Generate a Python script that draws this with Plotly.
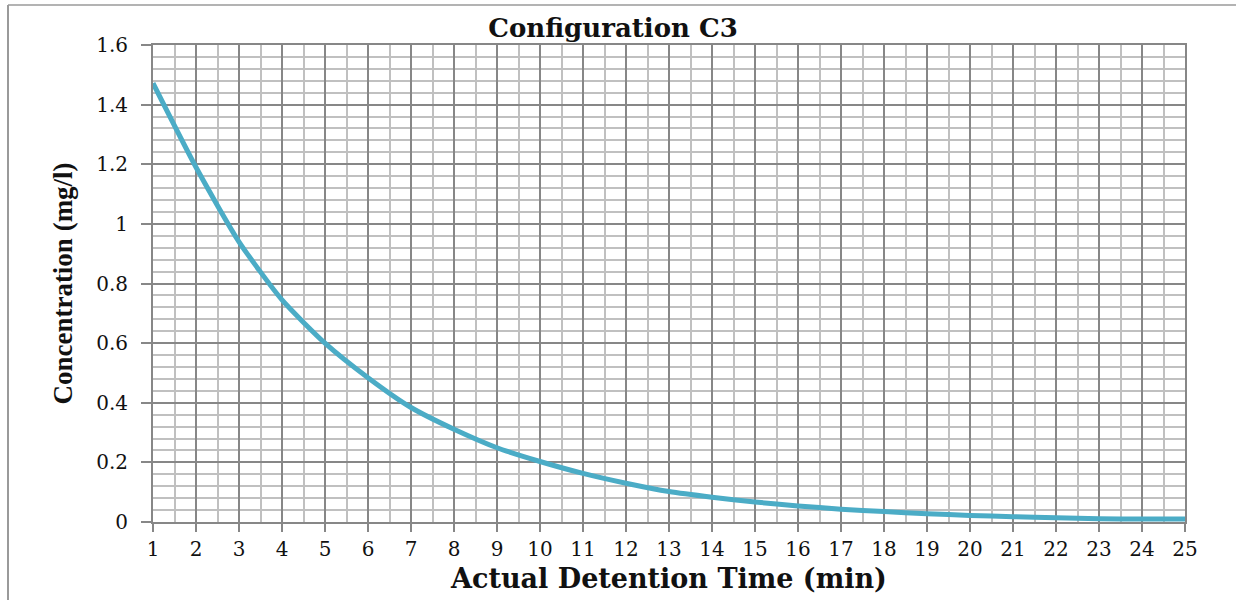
import plotly.graph_objects as go

time_min = list(range(1, 26))
concentration = [1.472, 1.19, 0.94, 0.745, 0.60, 0.484, 0.384, 0.311, 0.249, 0.203,
                 0.163, 0.130, 0.102, 0.083, 0.067, 0.054, 0.043, 0.035, 0.028, 0.022,
                 0.018, 0.014, 0.011, 0.01, 0.01]

title_text = "Configuration C3"
x_title = "Actual Detention Time (min)"
y_title = "Concentration (mg/l)"

serif = "'DejaVu Serif', 'Liberation Serif', serif"

fig = go.Figure()
fig.add_trace(go.Scatter(
    x=time_min, y=concentration, mode="lines",
    line=dict(color="#4BACC6", width=5, shape="spline", smoothing=0.6),
    showlegend=False, hoverinfo="x+y",
))

W, H = 1236, 600
L, R, T, B = 153, 51, 45, 78
pw, ph = W - L - R, H - T - B

def px_x(p):
    return (p - L) / pw

def px_y(p):
    return 1 - (p - T) / ph

# outer frame (top and left lines)
fig.add_shape(type="line", xref="paper", yref="paper",
              x0=px_x(8), x1=px_x(1240), y0=px_y(5), y1=px_y(5),
              line=dict(color="#9a9a9a", width=1.5))
fig.add_shape(type="line", xref="paper", yref="paper",
              x0=px_x(8), x1=px_x(8), y0=px_y(5), y1=px_y(605),
              line=dict(color="#9a9a9a", width=2))

fig.update_layout(
    width=W, height=H,
    margin=dict(l=L, r=R, t=T, b=B),
    paper_bgcolor="white", plot_bgcolor="white",
    title=dict(text=f"<b>{title_text}</b>", x=613 / W, xref="container", xanchor="center",
               y=1 - 28 / H, yref="container", yanchor="middle",
               font=dict(family=serif, size=26, color="#111111")),
    xaxis=dict(
        range=[1, 25], tickmode="linear", tick0=1, dtick=1,
        showgrid=True, gridcolor="#878787", gridwidth=2,
        minor=dict(dtick=0.5, tick0=1, showgrid=True, gridcolor="#c0c0c0", gridwidth=2),
        ticks="outside", ticklen=8, tickwidth=2, tickcolor="#878787",
        showline=True, linecolor="#878787", linewidth=2, mirror=True,
        zeroline=False,
        tickfont=dict(family=serif, size=20, color="#111111"),
        title=dict(text=f"<b>{x_title}</b>", standoff=9,
                   font=dict(family=serif, size=27, color="#111111")),
    ),
    yaxis=dict(
        range=[0, 1.6], tickmode="linear", tick0=0, dtick=0.2,
        showgrid=True, gridcolor="#878787", gridwidth=2,
        minor=dict(dtick=0.04, tick0=0, showgrid=True, gridcolor="#c0c0c0", gridwidth=2),
        ticks="outside", ticklen=10, tickwidth=2, tickcolor="#878787",
        showline=True, linecolor="#878787", linewidth=2, mirror=True,
        zeroline=False, ticklabelstandoff=9,
        tickfont=dict(family=serif, size=20, color="#111111"),
        title=dict(text=f"<b>{y_title}</b>", standoff=16,
                   font=dict(family="'Liberation Serif', serif",
                             size=27, color="#111111")),
    ),
)

fig.write_html("out.html")
